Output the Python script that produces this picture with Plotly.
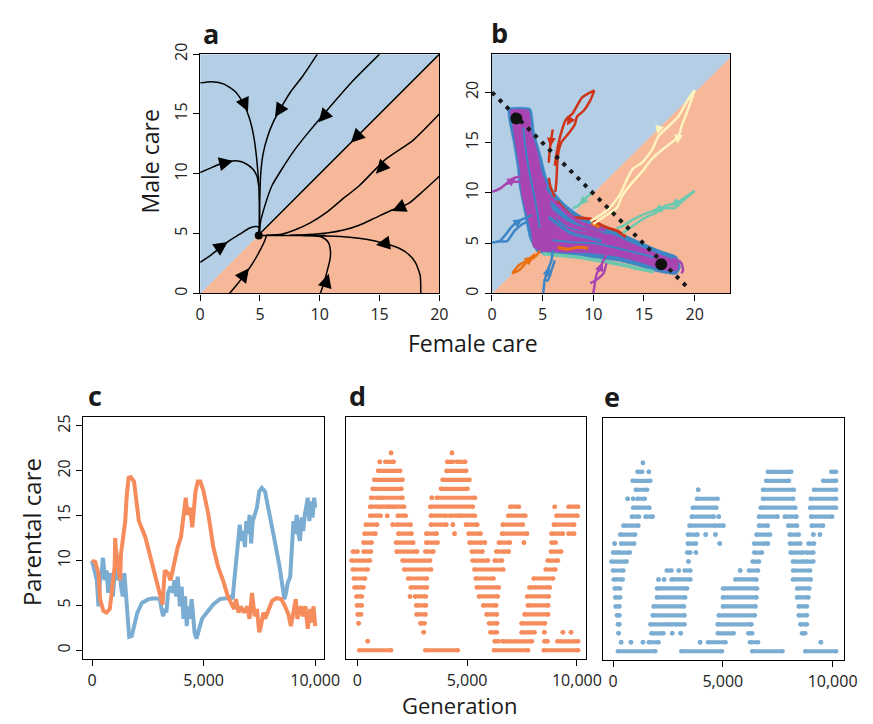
import plotly.graph_objects as go

W, H = 873, 724
FONT = "Open Sans"

BLUE_BG = "#B4CFE5"
ORANGE_BG = "#F7B899"
C_BLUE = "#7BADD3"
C_ORANGE = "#F68B5C"
T_PURPLE = "#A845B3"
T_BLUE = "#3D86C6"
T_TEAL = "#6CC8AE"
T_RED = "#CF3418"
T_ORANGE = "#E8700E"
T_YELLOW = "#FFF3BF"

# ---------------- panel a : phase plane (deterministic) ----------------
a_ticks = [0, 5, 10, 15, 20]
a_eq = (4.9, 4.85)
a_c1 = [(0, 17.6), (1, 17.7), (2, 17.5), (2.9, 16.9), (3.6, 15.9), (4.1, 14.7), (4.5, 13.0), (4.75, 11.0), (4.9, 9.0), (4.95, 7.0), (4.95, 5.0)]
a_c2 = [(9.8, 20), (8.6, 18.2), (7.6, 16.9), (6.8, 15.6), (6.1, 14.3), (5.6, 13.0), (5.25, 11.6), (5.05, 9.8), (4.98, 7.5), (4.95, 5.0)]
a_c3 = [(15.0, 20), (12.8, 17.8), (10.6, 15.3), (9.0, 13.4), (7.9, 12.0), (6.9, 10.5), (6.0, 9.0), (5.4, 7.3), (5.05, 6.0), (4.95, 5.0)]
a_c4 = [(4.9, 4.9), (20, 20)]
a_c5 = [(20, 15.0), (17.8, 12.8), (15.5, 11.2), (13.3, 9.0), (11.8, 7.8), (10.6, 6.8), (9.2, 5.9), (7.9, 5.3), (6.8, 4.95), (5.5, 4.86)]
a_c6 = [(20, 9.8), (18.7, 8.6), (17.4, 7.5), (16.0, 6.95), (14.6, 6.3), (13.3, 5.7), (12.0, 5.3), (10.6, 5.05), (9.0, 4.92), (7.5, 4.86)]
a_c7 = [(18.45, 0), (18.4, 1.5), (18.0, 2.6), (17.4, 3.3), (16.6, 3.8), (15.5, 4.15), (14.0, 4.5), (12.5, 4.7), (10.6, 4.8), (8.5, 4.84)]
a_c8 = [(10.05, 0), (10.35, 0.9), (10.6, 1.8), (10.85, 2.8), (10.9, 3.5), (10.7, 4.3), (10.2, 4.7), (9.5, 4.84)]
a_c9 = [(2.45, 0), (3.2, 0.9), (3.9, 1.8), (4.5, 2.7), (4.95, 3.5), (5.35, 4.3), (5.55, 4.85)]
a_c10 = [(0, 2.6), (0.9, 3.2), (1.7, 3.85), (2.5, 4.45), (3.3, 4.95), (4.1, 5.45), (4.6, 5.6), (4.9, 5.55), (4.92, 4.9)]
a_c11 = [(0, 10.1), (0.8, 10.45), (1.6, 10.8), (2.5, 11.05), (3.3, 11.05), (3.9, 10.8), (4.4, 10.4), (4.75, 9.8), (4.9, 9.0)]
a_trunk = [(4.9, 4.85), (10.5, 4.85)]
# arrows: (tip x, tip y, tail x, tail y)
a_arrows = [(4.0, 15.2, 3.6, 16.1), (6.26, 14.75, 6.8, 15.6), (9.9, 14.3, 10.7, 15.2),
            (12.6, 12.6, 13.5, 13.5), (14.7, 10.0, 15.6, 11.0), (16.05, 6.9, 17.2, 7.4),
            (14.7, 4.05, 15.6, 4.2), (10.75, 1.65, 10.5, 0.8), (4.08, 2.1, 3.4, 1.2),
            (2.3, 4.3, 1.5, 3.75), (2.75, 11.07, 1.8, 10.85)]

# ---------------- panel b : individual-based runs ----------------
b_ticks = [0, 5, 10, 15, 20]
b_eq_x = [2.4, 16.7]
b_eq_y = [17.4, 2.9]
b_isoline_x = [0, 19.5]
b_isoline_y = [20, 0.4]
b_cloud_blue = [(1.6, 18.4), (3.8, 18.4), (4.2, 16.0), (4.9, 13.5), (5.4, 11.5), (6.2, 10.0), (7.2, 8.9), (8.5, 7.9), (10.5, 6.9), (12.5, 6.1), (14.5, 5.2), (16.5, 4.3), (18.2, 3.7), (18.6, 2.6), (18.2, 1.9), (16.5, 2.1), (14.5, 2.7), (12.5, 3.2), (10.2, 3.5), (8.2, 3.8), (6.2, 3.9), (4.5, 4.1), (3.7, 5.5), (3.2, 8.0), (2.7, 10.5), (2.5, 12.5), (2.1, 15.0), (1.7, 17.0)]
b_cloud_purple = [(1.8, 18.2), (3.6, 18.2), (3.9, 16.0), (4.5, 14.0), (4.9, 12.0), (5.6, 10.2), (5.9, 8.2), (6.6, 7.0), (8.0, 6.3), (10.0, 6.0), (12.3, 5.8), (15.0, 4.75), (17.0, 3.8), (18.3, 3.4), (18.3, 2.3), (17.0, 2.3), (15.0, 3.0), (12.3, 3.7), (10.0, 4.0), (7.0, 4.1), (5.0, 4.2), (4.1, 4.6), (3.9, 6.0), (3.4, 8.0), (2.9, 10.0), (2.8, 12.0), (2.3, 15.0), (2.0, 17.0)]
b_streak_teal = [(5.0, 3.95), (7.0, 3.75), (8.5, 3.6), (10.0, 3.35), (11.5, 3.1), (13.0, 2.8), (14.5, 2.45), (16.0, 2.15)]
b_streak_blue = [(5.4, 10.6), (6.3, 9.5), (7.2, 8.6), (8.2, 7.8), (9.3, 7.1), (10.8, 6.5), (12.3, 5.9), (13.8, 5.2), (15.3, 4.6), (16.8, 4.0), (17.9, 3.6)]
b_streak_blue2 = [(5.6, 7.6), (6.6, 6.8), (7.8, 6.0), (9.3, 5.6), (10.8, 5.2)]
b_streak_blue3 = [(6.0, 5.3), (8.0, 5.1), (10.0, 5.0), (12.0, 4.6), (14.0, 4.1), (16.0, 3.6)]
b_streak_blue4 = [(3.1, 16.5), (3.3, 14.5), (3.6, 12.5), (4.0, 10.5), (4.4, 8.5), (4.7, 6.5)]
b_streak_red = [(6.4, 9.2), (7.2, 8.3), (8.0, 7.6), (8.8, 7.5), (9.8, 7.4), (10.6, 6.9), (11.5, 6.5), (12.4, 6.2), (13.2, 5.6)]
b_streak_red2 = [(5.6, 11.5), (5.8, 10.5), (6.2, 9.6)]
b_streak_purple = [(5.5, 9.8), (6.5, 8.8), (7.5, 7.9), (8.8, 7.0), (10.0, 6.6), (11.2, 6.3)]
b_streak_purple2 = [(5.3, 8.6), (6.3, 7.8), (7.3, 7.0), (8.3, 6.6), (9.5, 6.3), (10.5, 6.0), (11.5, 5.5)]
b_streak_orange = [(6.5, 4.6), (7.5, 4.4), (8.5, 4.6), (9.5, 4.5)]
b_streak_orange2 = [(9.8, 7.0), (10.6, 6.6)]
b_red_1 = [(10.1, 20.2), (8.9, 19.5), (7.95, 17.9), (7.3, 17.3), (6.83, 16.0), (6.44, 14.3), (6.19, 12.7)]
b_red_2 = [(10.1, 20.2), (9.7, 19.2), (9.07, 18.2), (8.4, 17.6), (8.17, 16.8), (7.63, 16.0), (6.83, 15.0), (6.5, 13.7), (6.35, 11.1), (6.25, 10.1)]
b_red_3 = [(6.0, 16.3), (5.87, 15.5), (5.7, 14.3), (5.6, 13.0)]
b_yel_1 = [(20, 20.2), (19.3, 19.2), (18.4, 17.6), (17.4, 16.6), (16.4, 15.6), (15.8, 14.3), (14.8, 13.0), (13.9, 12.4), (13.2, 11.1), (12.6, 9.8), (11.6, 8.5), (10.7, 7.8), (9.7, 7.2)]
b_yel_2 = [(20, 20.2), (19.3, 18.2), (18.7, 16.6), (18.4, 15.6), (17.7, 15.0), (16.8, 14.3), (15.8, 13.4), (14.8, 12.1), (13.9, 11.1), (12.9, 9.8), (12.3, 8.5), (11.3, 7.8), (10.0, 6.9)]
b_teal_1 = [(20, 10.2), (19.0, 9.5), (18.4, 9.1), (17.4, 8.8), (16.1, 8.3), (14.8, 7.8), (13.9, 7.35), (12.9, 6.7), (12.3, 6.5)]
b_teal_2 = [(20, 10.2), (18.7, 9.1), (18.0, 8.5), (17.1, 8.5), (16.1, 8.0), (14.8, 7.35), (13.6, 6.5), (12.9, 6.0)]
b_teal_3 = [(10.0, 10.1), (9.4, 9.6), (8.9, 9.1), (8.4, 8.65), (7.95, 8.5)]
b_blue_1 = [(0, 5.07), (0.74, 5.2), (1.38, 5.9), (2.0, 6.7), (2.66, 7.2), (3.3, 7.5), (3.9, 7.8)]
b_blue_2 = [(0.74, 5.2), (1.5, 5.2), (2.2, 6.2), (3.0, 6.9), (3.6, 7.2)]
b_blue_3 = [(5.06, 0), (5.2, 1.33), (5.5, 2.3), (5.87, 3.3), (6.0, 4.3)]
b_blue_4 = [(5.2, 1.33), (5.5, 1.3), (5.87, 2.3), (6.2, 3.3)]
b_pur_1 = [(0, 10.1), (0.74, 10.4), (1.38, 10.9), (2.0, 11.4), (2.66, 11.6), (3.3, 11.7)]
b_pur_2 = [(1.38, 10.9), (2.2, 11.1), (2.9, 11.1)]
b_pur_3 = [(10.0, 0), (10.2, 1.3), (10.35, 2.0), (10.7, 2.6), (11.0, 3.3), (11.3, 3.9)]
b_pur_4 = [(9.7, 1.0), (10.5, 1.5), (11.0, 2.0), (11.3, 3.0)]
b_pur_5 = [(18.7, 2.0), (18.85, 2.3), (18.7, 3.0), (18.4, 3.3)]
b_org_1 = [(2.0, 2.0), (2.66, 2.3), (3.3, 2.96), (3.94, 3.45), (4.4, 3.8), (4.74, 4.26)]
b_org_2 = [(2.0, 2.0), (2.66, 2.8), (3.46, 3.3), (4.26, 3.9)]
b_arrows = [(7.4, 16.7, 7.9, 17.6, T_RED), (5.75, 14.6, 5.87, 15.6, T_RED),
            (16.3, 15.8, 16.6, 16.8, T_YELLOW), (18.3, 14.9, 18.4, 15.9, T_YELLOW),
            (17.6, 8.75, 18.6, 9.2, T_TEAL), (15.9, 8.15, 16.9, 8.55, T_TEAL),
            (8.6, 8.8, 9.3, 9.5, T_TEAL), (3.0, 7.4, 2.1, 6.8, T_BLUE),
            (5.65, 2.7, 5.35, 1.5, T_BLUE), (2.4, 11.5, 1.3, 10.8, T_PURPLE),
            (10.9, 3.1, 10.5, 2.0, T_PURPLE), (4.1, 3.7, 3.2, 3.0, T_ORANGE)]

# ---------------- panel c : mean care over generations ----------------
c_gen_orange = [0, 145, 290, 360, 507, 650, 797, 870, 940, 1014, 1040, 1058, 1160, 1260, 1300, 1377, 1490, 1550, 1637, 1739, 1884, 1956, 2100, 2390, 2608, 2826, 2970, 3086, 3160, 3260, 3405, 3520, 3620, 3695, 3840, 3985, 4100, 4200, 4275, 4390, 4492, 4637, 4740, 4855, 5000, 5216, 5434, 5650, 5870, 6086, 6300, 6375, 6450, 6564, 6665, 6810, 6955, 7057, 7170, 7290, 7390, 7490, 7565, 7680, 7750, 7900, 8070, 8260, 8477, 8650, 8800, 8910, 9056, 9130, 9200, 9350, 9460, 9560, 9665, 9780, 9850, 9925, 10000]
c_orange = [10.0, 9.85, 8.6, 5.7, 4.4, 4.2, 4.6, 6.4, 7.8, 9.3, 12.5, 11.5, 9.7, 7.8, 10.8, 12.6, 14.4, 17.0, 19.2, 19.3, 18.8, 17.3, 14.4, 12.6, 10.4, 8.2, 6.75, 5.5, 5.1, 8.9, 8.6, 7.8, 8.9, 10.0, 11.5, 12.6, 15.1, 17.0, 15.1, 15.9, 13.7, 17.7, 18.8, 18.8, 17.7, 15.1, 11.5, 9.3, 7.8, 6.0, 4.9, 4.6, 5.7, 4.2, 4.9, 4.2, 4.9, 3.5, 6.4, 3.8, 4.6, 2.0, 2.7, 4.2, 3.5, 4.6, 5.5, 5.8, 5.7, 4.9, 4.0, 2.7, 4.6, 5.7, 3.5, 4.9, 3.8, 4.9, 2.4, 4.6, 3.1, 4.9, 2.7]
c_gen_blue = [0, 217, 290, 360, 435, 480, 507, 580, 650, 725, 797, 870, 940, 1014, 1087, 1160, 1230, 1300, 1377, 1450, 1520, 1594, 1666, 1782, 1884, 2030, 2245, 2535, 2826, 3043, 3115, 3190, 3260, 3333, 3405, 3520, 3620, 3695, 3767, 3840, 3940, 4014, 4100, 4170, 4245, 4318, 4390, 4463, 4535, 4594, 4680, 4782, 4927, 5144, 5434, 5724, 6013, 6230, 6300, 6375, 6477, 6564, 6622, 6680, 6767, 6854, 6912, 7000, 7057, 7130, 7200, 7290, 7390, 7490, 7607, 7750, 7970, 8187, 8405, 8550, 8620, 8695, 8767, 8880, 8970, 9027, 9100, 9170, 9245, 9317, 9390, 9460, 9535, 9607, 9665, 9738, 9810, 9880, 9955, 10000]
c_blue = [10.0, 7.8, 4.9, 7.8, 8.6, 10.3, 10.0, 7.8, 8.9, 6.4, 8.6, 7.8, 6.0, 8.6, 10.0, 7.8, 9.3, 7.1, 6.0, 8.6, 5.7, 2.7, 1.5, 1.6, 2.7, 4.2, 5.3, 5.7, 5.8, 5.7, 4.6, 3.8, 4.6, 4.2, 6.4, 7.1, 6.4, 7.8, 6.0, 8.2, 4.9, 7.1, 3.5, 6.0, 2.7, 4.9, 3.5, 5.7, 3.8, 2.0, 1.3, 2.4, 3.5, 4.2, 5.1, 5.7, 5.8, 6.0, 5.7, 7.8, 10.0, 11.9, 14.0, 12.2, 13.3, 11.5, 14.4, 13.0, 15.1, 11.9, 14.4, 15.1, 15.9, 17.7, 18.1, 17.7, 15.1, 12.2, 9.3, 6.75, 5.7, 6.4, 7.5, 8.2, 11.5, 14.4, 13.0, 15.1, 13.0, 12.2, 14.8, 13.3, 15.1, 15.9, 17.0, 14.4, 16.6, 14.8, 17.0, 15.9]
c_yticks = [0, 5, 10, 15, 20, 25]
gen_ticks = [0, 5000, 10000]
gen_ticktext = ["0", "5,000", "10,000"]

# ---------------- panel d : female care, runs of individuals at each level ----------------
d_lvl = [22, 22,
         21, 21, 21, 21,
         20, 20,
         19, 19,
         18, 18,
         17, 17, 17, 17,
         16, 16, 16, 16, 16, 16, 16, 16,
         15, 15, 15, 15, 15, 15, 15, 15,
         14, 14, 14, 14, 14, 14, 14, 14,
         13, 13, 13, 13, 13, 13, 13, 13,
         12, 12, 12, 12, 12, 12, 12, 12,
         11, 11, 11, 11, 11, 11, 11, 11,
         10, 10, 10, 10, 10,
         9, 9, 9, 9,
         8, 8, 8, 8,
         7, 7, 7, 7,
         6, 6, 6, 6, 6,
         5, 5, 5, 5,
         4, 4, 4, 4,
         3, 3, 3, 3,
         2, 2, 2, 2, 2, 2,
         1, 1, 1, 1, 1,
         0, 0, 0, 0]
d_x0 = [1540, 4310,
        1022, 1274, 4088, 4532,
        948, 4058,
        770, 3880,
        696, 3806,
        622, 1066, 3392, 3614,
        578, 1126, 1466, 1718, 3318, 6962, 8991, 9613,
        578, 1363, 1837, 3347, 4206, 4740, 6873, 9065,
        385, 1614, 1807, 3347, 4354, 4947, 6621, 8946,
        326, 1866, 3140, 4428, 5066, 6592, 8843, 9613,
        281, 1763, 3140, 5110, 5807, 6444, 7584, 8843,
        -200, 281, 1792, 3095, 5214, 6325, 6888, 8813,
        -267, 2059, 5244, 6251, 8665,
        -207, 2133, 5333, 8576,
        -163, 2311, 5392, 8028,
        -133, 2429, 5436, 7836,
        -44, 2400, 2622, 5540, 7732,
        -15, 2681, 5733, 7762,
        15, 2696, 5881, 7614,
        59, 2874, 6000, 7480,
        3022, 6059, 7480, 8517, 9361, 9732,
        474, 6251, 6621, 8517, 9109,
        89, 3095, 6222, 8487]
d_x1 = [1540, 4310,
        1022, 1659, 4354, 4917,
        1955, 4962,
        2059, 5110,
        2014, 5022,
        948, 2059, 3392, 5362,
        1022, 1392, 1614, 2133, 5259, 7362, 8991, 10057,
        1066, 1363, 2207, 4058, 4680, 5362, 7658, 10028,
        903, 1614, 2429, 4058, 4354, 5466, 7540, 9880,
        829, 2474, 3614, 4428, 5614, 7732, 9361, 9880,
        652, 2548, 3658, 5658, 5807, 6947, 7584, 9035,
        15, 622, 2725, 3466, 5703, 6740, 6888, 9287,
        578, 3318, 5955, 6592, 9139,
        474, 3362, 6651, 9020,
        356, 3170, 6206, 8917,
        281, 3170, 6444, 8769,
        207, 2400, 3125, 6399, 8724,
        207, 3125, 6325, 8695,
        178, 3110, 6355, 8695,
        59, 3066, 6370, 8547,
        3022, 6355, 8073, 8517, 9361, 9732,
        474, 6444, 7954, 8665, 10057,
        1540, 4576, 7776, 10057]

# ---------------- panel e : male care, runs of individuals at each level ----------------
e_lvl = [21,
         20, 20, 20, 20,
         19, 19, 19,
         18, 18, 18, 18,
         17, 17, 17, 17, 17, 17,
         16, 16, 16, 16,
         15, 15, 15, 15, 15, 15, 15,
         14, 14, 14, 14, 14, 14,
         13, 13, 13, 13, 13, 13, 13, 13,
         12, 12, 12, 12, 12, 12, 12, 12,
         11, 11, 11, 11, 11, 11, 11,
         10, 10, 10, 10, 10,
         9, 9, 9, 9, 9, 9, 9,
         8, 8, 8, 8, 8, 8,
         7, 7, 7, 7,
         6, 6, 6, 6,
         5, 5, 5, 5,
         4, 4, 4, 4,
         3, 3, 3, 3, 3,
         2, 2, 2, 2, 2, 2, 2,
         1, 1, 1, 1, 1, 1, 1, 1,
         0, 0, 0, 0]
e_x0 = [1363,
        1111, 1630, 7050, 9938,
        889, 6976, 9568,
        1037, 3880, 6828, 9154,
        667, 918, 1111, 3821, 6828, 9005,
        918, 3629, 6725, 8976,
        859, 1481, 3584, 4813, 6650, 7820, 9020,
        474, 3481, 4813, 6650, 7983, 9050,
        326, 3407, 4221, 4665, 6532, 8043, 9124, 9420,
        74, 370, 3407, 4858, 6428, 7050, 8058, 8902,
        0, 296, 3377, 3777, 6428, 8087, 8798,
        -74, 3436, 6354, 8190, 8798,
        0, 2444, 2992, 3258, 5791, 6191, 8205,
        30, 2074, 2326, 2666, 5570, 8190,
        74, 2000, 5006, 8383,
        104, 2000, 5006, 8383,
        118, 1851, 5006, 8457,
        178, 1807, 4813, 8457,
        222, 1703, 2844, 4769, 8531,
        252, 1748, 2696, 3081, 4769, 6162, 8605,
        370, 815, 1363, 1630, 3969, 4325, 6236, 9464,
        222, 3110, 6339, 8754]
e_x1 = [1363,
        1333, 1630, 8117, 10160,
        1703, 8013, 10160,
        1555, 3880, 8235, 10160,
        667, 918, 1452, 4769, 8205, 10160,
        1659, 4710, 8309, 10160,
        1185, 1807, 4591, 4813, 7495, 8354, 9983,
        1155, 4665, 5036, 7050, 8383, 9568,
        1007, 3851, 4221, 4665, 7154, 8457, 9124, 9420,
        74, 963, 3777, 4858, 6902, 7050, 8531, 9154,
        222, 770, 3525, 3777, 6784, 8650, 9124,
        622, 3436, 6650, 8680, 9124,
        474, 2666, 2992, 3525, 5791, 6606, 8976,
        444, 2074, 2326, 3525, 6532, 9005,
        326, 3377, 6562, 8946,
        326, 3288, 6532, 8902,
        296, 3229, 6488, 8828,
        296, 3258, 6458, 8828,
        296, 2696, 3258, 6310, 8828,
        252, 2296, 2696, 3081, 5495, 6340, 8754,
        370, 815, 1363, 2074, 3969, 5125, 6606, 9464,
        1926, 4962, 7717, 10160]

# ======================================================================
fig = go.Figure()


def xs(pts):
    return [p[0] for p in pts]


def ys(pts):
    return [p[1] for p in pts]


def line(pts, color, width, xa, ya):
    fig.add_trace(go.Scatter(
        x=xs(pts), y=ys(pts), mode="lines", xaxis=xa, yaxis=ya,
        line=dict(color=color, width=width, shape="spline", smoothing=0.6),
        hoverinfo="skip", showlegend=False))


def poly(pts, color, xa, ya, smooth=False):
    fig.add_trace(go.Scatter(
        x=xs(pts) + [pts[0][0]], y=ys(pts) + [pts[0][1]], mode="lines", xaxis=xa, yaxis=ya,
        line=dict(color=color, width=0.5, shape="spline" if smooth else "linear", smoothing=0.5),
        fill="toself", fillcolor=color, hoverinfo="skip", showlegend=False))


# --- panel a
ax_max = a_ticks[-1]
poly([(0, 0), (ax_max, 0), (ax_max, ax_max)], ORANGE_BG, "x", "y")
poly([(0, 0), (0, ax_max), (ax_max, ax_max)], BLUE_BG, "x", "y")
for c in [a_c1, a_c2, a_c3, a_c5, a_c6, a_c7, a_c8, a_c9, a_c10, a_c11]:
    line(c, "black", 1.5, "x", "y")
fig.add_trace(go.Scatter(x=xs(a_c4), y=ys(a_c4), mode="lines", xaxis="x", yaxis="y",
                         line=dict(color="black", width=1.5), hoverinfo="skip", showlegend=False))
fig.add_trace(go.Scatter(x=xs(a_trunk), y=ys(a_trunk), mode="lines", xaxis="x", yaxis="y",
                         line=dict(color="black", width=1.5), hoverinfo="skip", showlegend=False))
fig.add_trace(go.Scatter(x=[a_eq[0]], y=[a_eq[1]], mode="markers", xaxis="x", yaxis="y",
                         marker=dict(color="black", size=8), hoverinfo="skip", showlegend=False))

# --- panel b
bx_max, by_max = 23.5, 23.8
poly([(0, 0), (bx_max, 0), (bx_max, bx_max)], ORANGE_BG, "x2", "y2")
poly([(0, 0), (bx_max, bx_max), (bx_max, by_max), (0, by_max)], BLUE_BG, "x2", "y2")
poly(b_cloud_blue, T_BLUE, "x2", "y2", smooth=True)
line(b_streak_teal, T_TEAL, 3.5, "x2", "y2")
poly(b_cloud_purple, T_PURPLE, "x2", "y2", smooth=True)
line(b_streak_blue, T_BLUE, 4, "x2", "y2")
line(b_streak_blue2, T_BLUE, 3, "x2", "y2")
line(b_streak_blue3, T_BLUE, 2, "x2", "y2")
line(b_streak_blue4, T_BLUE, 2, "x2", "y2")
line(b_streak_red, T_RED, 3, "x2", "y2")
line(b_streak_red2, T_RED, 2.5, "x2", "y2")
line(b_streak_purple, T_PURPLE, 3.5, "x2", "y2")
line(b_streak_purple2, T_PURPLE, 4, "x2", "y2")
line(b_streak_orange, T_ORANGE, 3, "x2", "y2")
line(b_streak_orange2, T_ORANGE, 3, "x2", "y2")
for pts, col in [(b_red_1, T_RED), (b_red_2, T_RED), (b_red_3, T_RED),
                 (b_yel_1, T_YELLOW), (b_yel_2, T_YELLOW),
                 (b_teal_1, T_TEAL), (b_teal_2, T_TEAL), (b_teal_3, T_TEAL),
                 (b_blue_1, T_BLUE), (b_blue_2, T_BLUE), (b_blue_3, T_BLUE), (b_blue_4, T_BLUE),
                 (b_pur_1, T_PURPLE), (b_pur_2, T_PURPLE), (b_pur_3, T_PURPLE), (b_pur_4, T_PURPLE),
                 (b_pur_5, T_PURPLE), (b_org_1, T_ORANGE), (b_org_2, T_ORANGE)]:
    line(pts, col, 2.5, "x2", "y2")
fig.add_trace(go.Scatter(x=b_isoline_x, y=b_isoline_y, mode="lines", xaxis="x2", yaxis="y2",
                         line=dict(color="#1a1a1a", width=4, dash="4px,6px"),
                         hoverinfo="skip", showlegend=False))
fig.add_trace(go.Scatter(x=b_eq_x, y=b_eq_y, mode="markers", xaxis="x2", yaxis="y2",
                         marker=dict(color="#111111", size=12), hoverinfo="skip", showlegend=False))

# --- panel c
fig.add_trace(go.Scatter(x=c_gen_blue, y=c_blue, mode="lines", xaxis="x3", yaxis="y3",
                         line=dict(color=C_BLUE, width=4), hoverinfo="skip", showlegend=False))
fig.add_trace(go.Scatter(x=c_gen_orange, y=c_orange, mode="lines", xaxis="x3", yaxis="y3",
                         line=dict(color=C_ORANGE, width=4), hoverinfo="skip", showlegend=False))


# --- panels d, e (runs of points at each integer care level)
def runs(lvl, x0, x1, color, xa, ya):
    X, Y = [], []
    for l, s, e in zip(lvl, x0, x1):
        X += [s, e, None]
        Y += [l, l, None]
    fig.add_trace(go.Scatter(x=X, y=Y, mode="lines+markers", xaxis=xa, yaxis=ya,
                             line=dict(color=color, width=4.2),
                             marker=dict(color=color, size=4.6),
                             connectgaps=False, hoverinfo="skip", showlegend=False))


runs(d_lvl, d_x0, d_x1, C_ORANGE, "x4", "y4")
runs(e_lvl, e_x0, e_x1, C_BLUE, "x5", "y5")

# ---------------- layout ----------------
def px_dom_x(a, b):
    return [a / W, b / W]


def px_dom_y(top, bottom):
    return [1 - bottom / H, 1 - top / H]


tickfont = dict(family=FONT, size=16, color="#222222")
axis_common = dict(showline=True, linecolor="black", linewidth=1.3, mirror=True,
                   ticks="outside", ticklen=6, tickwidth=1.2, tickcolor="black",
                   showgrid=False, zeroline=False, tickfont=tickfont, fixedrange=True)

layout = dict(
    width=W, height=H, margin=dict(l=0, r=0, t=0, b=0),
    paper_bgcolor="white", plot_bgcolor="white", showlegend=False,
    font=dict(family=FONT, color="#222222"),
    xaxis=dict(axis_common, domain=px_dom_x(200, 445), range=[0, 20], tickvals=a_ticks, anchor="y"),
    yaxis=dict(axis_common, domain=px_dom_y(43, 287), range=[0, 20], tickvals=a_ticks, tickangle=-90, anchor="x"),
    xaxis2=dict(axis_common, domain=px_dom_x(499, 743), range=[0, bx_max], tickvals=b_ticks, anchor="y2"),
    yaxis2=dict(axis_common, domain=px_dom_y(43, 287), range=[0, by_max], tickvals=b_ticks, tickangle=-90, anchor="x2"),
    xaxis3=dict(axis_common, domain=px_dom_x(80, 327), range=[-400, 10400], tickvals=gen_ticks, ticktext=gen_ticktext, anchor="y3"),
    yaxis3=dict(axis_common, domain=px_dom_y(413, 660), range=[-1, 26], tickvals=c_yticks, tickangle=-90, anchor="x3"),
    xaxis4=dict(axis_common, domain=px_dom_x(349, 595), range=[-533, 10400], tickvals=gen_ticks, ticktext=gen_ticktext, anchor="y4"),
    yaxis4=dict(axis_common, domain=px_dom_y(413, 660), range=[-1, 26], ticks="", showticklabels=False, anchor="x4"),
    xaxis5=dict(axis_common, domain=px_dom_x(613, 860), range=[-444, 10533], tickvals=gen_ticks, ticktext=gen_ticktext, anchor="y5"),
    yaxis5=dict(axis_common, domain=px_dom_y(414, 661), range=[-1, 26], ticks="", showticklabels=False, anchor="x5"),
)

ann = []


def txt(text, x, y, size, bold=False, angle=0, yanchor="middle"):
    ann.append(dict(text=("<b>%s</b>" % text) if bold else text, x=x / W, y=1 - y / H,
                    xref="paper", yref="paper", showarrow=False, textangle=angle,
                    font=dict(family=FONT, size=size, color="#1a1a1a"),
                    xanchor="center", yanchor=yanchor))


txt("a", 211, 22, 27, bold=True)
txt("b", 507, 21, 27, bold=True)
txt("c", 92, 391, 27, bold=True)
txt("d", 361, 391, 27, bold=True)
txt("e", 622, 392, 27, bold=True)
txt("Male care", 149, 152, 23, angle=-90)
txt("Female care", 480, 338, 23)
txt("Parental care", 27, 530, 24, angle=-90)
txt("Generation", 466, 724, 22, yanchor="bottom")

for tx, ty, sx, sy in a_arrows:
    ann.append(dict(x=tx, y=ty, ax=sx, ay=sy, xref="x", yref="y", axref="x", ayref="y",
                    showarrow=True, arrowhead=2, arrowsize=2.0, arrowwidth=1.4,
                    arrowcolor="black", text="", standoff=0))
for tx, ty, sx, sy, col in b_arrows:
    ann.append(dict(x=tx, y=ty, ax=sx, ay=sy, xref="x2", yref="y2", axref="x2", ayref="y2",
                    showarrow=True, arrowhead=2, arrowsize=0.9, arrowwidth=2,
                    arrowcolor=col, text="", standoff=0))

layout["annotations"] = ann
fig.update_layout(**layout)
fig.write_html("out.html")
